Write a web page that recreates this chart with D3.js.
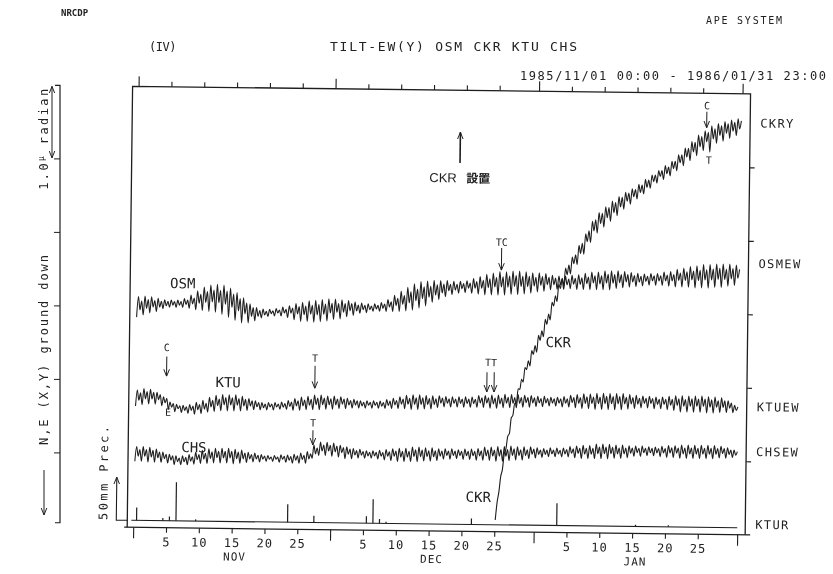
<!DOCTYPE html>
<html lang="ja">
<head>
<meta charset="utf-8">
<title>TILT-EW(Y) OSM CKR KTU CHS</title>
<script src="https://cdn.jsdelivr.net/npm/d3@7/dist/d3.min.js"></script>
<style>
  html, body { margin: 0; padding: 0; background: #fff; }
  svg { display: block; will-change: transform; }
  text { font-family: "DejaVu Sans Mono", monospace; fill: #222; }
</style>
</head>
<body>
<svg id="chart" width="833" height="574"></svg>
<script>
// ---- time axis: days from 1985/11/01 00:00 ----
const totalDays = 92;
const monthStarts = [0, 30, 61, 92];
const monthNames = ["NOV", "DEC", "JAN"];
const dayMarks = [5, 10, 15, 20, 25];
const levelTicks = [1, 2, 3, 4, 5];           // μrad

// ---- tilt traces (0.01 μrad), one tidal extreme every 6 h ----
const osmEW = [
286,314,296,308, 289,315,298,310, 292,314,300,309, 294,312,300,308, 298,310,302,308,
300,310,303,308, 300,310,303,308, 300,312,304,310, 299,317,305,313, 297,323,306,318,
296,328,307,322, 295,331,308,324, 294,332,307,324, 291,331,305,323, 287,327,301,319,
283,321,296,313, 280,314,292,307, 280,306,289,301, 283,301,289,297, 287,299,291,296,
289,299,293,297, 290,300,294,298, 290,302,294,299, 288,304,294,301, 285,307,293,303,
283,309,292,304, 283,311,293,305, 282,312,292,306, 283,313,293,307, 284,314,295,308,
286,314,296,308, 287,313,296,308, 290,312,298,308, 292,310,298,306, 295,309,300,306,
296,308,300,305, 298,308,301,306, 298,310,302,308, 298,314,304,311, 298,320,306,316,
298,326,308,320, 299,331,310,325, 300,336,313,329, 303,339,316,332, 306,340,318,333,
311,341,321,335, 315,341,324,336, 319,341,327,336, 322,340,328,336, 324,340,330,337,
325,341,331,338, 324,344,331,340, 323,347,331,342, 322,350,332,344, 322,352,333,346,
322,354,333,347, 322,354,333,348, 323,355,334,349, 323,355,334,348, 324,354,334,348,
325,353,335,347, 327,353,336,348, 328,352,337,347, 330,350,337,346, 331,349,337,345,
331,349,337,345, 332,350,338,346, 331,351,338,347, 331,353,339,348, 331,355,340,350,
331,355,339,350, 331,357,340,352, 331,357,340,352, 333,357,341,352, 334,356,342,352,
335,355,342,351, 336,354,342,350, 337,353,343,350, 338,354,344,351, 338,354,344,351,
338,356,344,352, 337,357,344,353, 336,360,345,355, 336,362,345,357, 336,364,346,358,
335,365,345,359, 335,367,346,360, 335,367,346,361, 336,368,347,362, 336,368,347,361,
338,368,348,362, 339,367,349,361
];
const ktuEW = [
165,187,173,183, 167,189,175,185, 168,188,175,184, 168,184,174,181, 166,178,170,176,
161,171,164,169, 158,168,162,166, 157,167,160,165, 156,168,160,166, 155,171,161,168,
156,174,162,170, 158,178,165,174, 159,181,167,176, 160,182,168,178, 160,182,168,178,
160,182,168,177, 160,180,167,176, 161,177,167,174, 162,174,166,172, 162,172,165,170,
162,172,166,170, 162,172,166,170, 163,173,166,171, 163,175,167,173, 162,178,168,175,
162,180,168,176, 163,181,169,177, 163,183,170,179, 163,183,170,179, 164,182,170,178,
164,182,170,178, 165,181,171,178, 165,179,170,176, 166,178,170,176, 166,176,169,174,
166,176,170,174, 166,176,170,174, 166,176,169,174, 166,178,170,176, 166,180,171,177,
166,182,172,179, 166,184,172,180, 165,185,172,181, 165,185,172,181, 166,184,172,180,
166,184,172,180, 168,184,174,181, 169,183,174,180, 169,183,174,180, 169,183,174,180,
169,183,174,180, 169,183,174,180, 169,185,175,182, 169,185,175,182, 168,186,174,182,
168,186,174,182, 169,187,175,183, 169,187,175,183, 169,187,175,183, 170,186,176,183,
170,186,176,183, 171,185,176,182, 171,185,176,182, 172,184,176,182, 172,184,176,182,
171,185,176,182, 171,187,177,184, 170,188,176,184, 169,189,176,185, 169,189,176,185,
168,190,176,185, 168,190,176,186, 168,190,176,186, 168,190,176,186, 168,190,176,185,
169,189,176,185, 170,188,176,184, 171,187,177,184, 171,187,177,184, 170,186,176,183,
170,186,176,183, 169,187,175,183, 168,188,175,184, 166,188,174,183, 166,188,174,184,
166,188,174,184, 166,188,174,184, 165,187,173,183, 165,187,173,182, 166,186,173,182,
166,182,172,179, 166,176,169,174
];
const chsEW = [
90,110,97,106, 90,110,97,106, 89,109,96,105, 89,107,95,103, 89,103,94,100,
88,100,92,98, 86,98,90,95, 86,98,90,96, 86,100,91,97, 87,103,93,100,
88,106,94,102, 88,108,95,104, 89,109,96,105, 89,109,96,105, 89,109,96,105,
88,108,95,104, 89,107,95,103, 90,104,95,101, 91,103,95,100, 91,101,95,99,
92,100,95,98, 92,100,95,98, 91,101,95,99, 91,101,94,99, 90,102,94,100,
90,104,95,101, 90,106,96,103, 97,115,103,111, 101,119,107,115, 101,119,107,115,
100,118,106,114, 99,115,105,112, 97,113,103,110, 97,111,102,108, 98,110,102,107,
98,108,101,106, 98,108,101,106, 97,109,101,106, 96,110,101,107, 95,111,101,108,
94,112,100,108, 94,112,100,108, 94,114,101,110, 94,114,101,110, 95,113,101,109,
95,113,101,109, 96,112,102,109, 98,112,103,109, 98,112,103,109, 99,111,103,109,
98,112,103,109, 98,112,103,109, 97,113,103,110, 97,115,103,111, 97,115,103,111,
96,116,103,112, 96,116,103,112, 97,117,104,113, 98,116,104,112, 98,116,104,112,
100,116,106,113, 101,115,106,112, 102,114,106,112, 103,115,107,112, 103,115,107,112,
103,115,107,113, 103,117,108,114, 102,118,108,115, 101,119,107,115, 101,119,107,115,
101,121,108,117, 101,121,108,117, 101,121,108,117, 102,120,108,116, 102,120,108,116,
103,119,109,116, 105,119,110,116, 105,119,110,116, 106,118,110,116, 106,118,110,116,
105,119,110,116, 104,120,110,117, 104,120,110,117, 103,121,109,117, 103,121,109,117,
103,121,109,117, 103,121,109,117, 103,121,109,117, 103,121,109,117, 104,120,110,117,
104,118,109,115, 105,115,108,113
];
// CKR starts recording on 1985/12/26 (day 55)
const ckrFirstDay = 55;
const ckrY = [
16,40,54,75, 85,106,113,130, 134,155,159,175, 175,195,194,208, 204,224,221,233,
226,247,242,254, 245,268,261,274, 266,290,283,297, 289,313,308,322, 314,338,332,346,
336,360,351,364, 352,375,366,378, 365,391,380,394, 379,407,396,411, 395,424,411,426,
408,436,421,435, 416,444,429,443, 424,452,436,450, 432,458,444,457, 441,464,452,463,
448,469,458,468, 455,475,464,474, 462,482,471,481, 470,488,479,488, 477,494,486,494,
482,501,490,499, 487,507,497,507, 494,516,505,516, 501,525,513,525, 508,534,520,533,
515,543,527,541, 522,549,534,547, 520,556,538,552, 532,559,543,556, 535,562,546,559,
539,564,549,561, 543,566,552,563
];

// ---- KTU daily precipitation (mm) ----
const rainDays = [0, 4, 5, 6, 9, 23, 27, 35, 36, 37, 38, 51, 64, 76, 81];
const rainMm   = [15, 3, 5, 45, 2, 21, 8, 8, 28, 5, 2, 7, 26, 2, 2];

// ================= drawing =================
const svg = d3.select("#chart");
const ink = "#1e1e1e";

const x = d3.scaleLinear().domain([0, totalDays]).range([136, 740]);
const y = d3.scaleLinear().domain([0, 6]).range([531, 90]);
const yRain = d3.scaleLinear().domain([0, 50]).range([524, 481]);
const frame = { left: 130, right: 748, top: y(6), bottom: y(0) };

const defs = svg.append("defs");
defs.append("marker")
  .attr("id", "head")
  .attr("viewBox", "0 0 10 10")
  .attr("refX", 10).attr("refY", 5)
  .attr("markerWidth", 7).attr("markerHeight", 7)
  .attr("markerUnits", "userSpaceOnUse")
  .attr("orient", "auto-start-reverse")
  .append("path")
  .attr("d", "M0,1 L10,5 L0,9")
  .attr("fill", "none").attr("stroke", ink).attr("stroke-width", 1.4);

// ---- header ----
svg.append("text").attr("x", 61).attr("y", 16).attr("font-size", 9).attr("font-weight", "bold").text("NRCDP");
svg.append("text").attr("x", 706).attr("y", 24).attr("font-size", 10).attr("textLength", 76).text("APE SYSTEM");
svg.append("text").attr("x", 149).attr("y", 51).attr("font-size", 12).attr("letter-spacing", -0.5).text("(IV)");
svg.append("text").attr("x", 330).attr("y", 51).attr("font-size", 13).attr("textLength", 247)
  .text("TILT-EW(Y) OSM CKR KTU CHS");
svg.append("text").attr("x", 520).attr("y", 80).attr("font-size", 12).attr("textLength", 306)
  .text("1985/11/01 00:00 - 1986/01/31 23:00");

// ---- left scale bar (1 μrad per division) ----
const yL = d3.scaleLinear().domain([0, 6]).range([526.4, 85.4]);
const scaleX = 60;
const left = svg.append("g").attr("stroke", ink).attr("fill", "none");
left.append("path")
  .attr("d", `M${scaleX - 5},${yL(6)} H${scaleX} V${yL(0.05)} H${scaleX - 5}`)
  .attr("stroke-width", 1.2);
left.selectAll("line.tick").data(levelTicks).join("line")
  .attr("x1", scaleX - 6).attr("x2", scaleX)
  .attr("y1", d => yL(d)).attr("y2", d => yL(d));
left.append("line")
  .attr("x1", 52).attr("x2", 52).attr("y1", yL(6) + 1).attr("y2", yL(5) - 1)
  .attr("marker-start", "url(#head)").attr("marker-end", "url(#head)");

// axis caption, read bottom-to-top
const axisTextX = 44;
const radian = svg.append("text")
  .attr("transform", `translate(${axisTextX + 4},${yL(6) + 1}) rotate(-90)`)
  .attr("text-anchor", "end").attr("font-size", 12).attr("letter-spacing", 2.4);
radian.append("tspan").text("1.0");
radian.append("tspan").attr("font-size", 8).attr("dy", -4).text("μ");
radian.append("tspan").attr("dy", 4).text(" radian");
svg.append("text")
  .attr("transform", `translate(${axisTextX + 4},350) rotate(-90)`)
  .attr("text-anchor", "middle").attr("font-size", 12).attr("textLength", 190)
  .text("N,E (X,Y) ground down");
left.append("line").attr("x1", axisTextX).attr("x2", axisTextX).attr("y1", 470).attr("y2", 515)
  .attr("marker-end", "url(#head)");

// ---- plot (drawn slightly rotated, as on the plotter sheet) ----
const plot = svg.append("g").attr("transform", "rotate(0.7 435 300)");

// frame
plot.append("path")
  .attr("d", `M${frame.left},${frame.bottom} V${frame.top} H${frame.right} V${frame.bottom}`)
  .attr("fill", "none").attr("stroke", ink).attr("stroke-width", 1.3);
plot.append("line")
  .attr("x1", frame.left - 3).attr("x2", frame.right + 5)
  .attr("y1", frame.bottom).attr("y2", frame.bottom)
  .attr("stroke", ink).attr("stroke-width", 1.3);

const monthOf = t => d3.max(monthStarts.filter(m => m <= t));
const minorTicks = monthStarts.slice(0, 3).flatMap(m => dayMarks.map(d => m + d));

function styleAxis(g) {
  g.select(".domain").remove();
  g.selectAll(".tick line").attr("stroke", ink).attr("stroke-width", 1.1);
  g.selectAll("text").attr("font-family", "DejaVu Sans Mono, monospace")
    .attr("font-size", 12).attr("letter-spacing", 1).attr("fill", "#222");
}

// bottom axis
plot.append("g").attr("transform", `translate(0,${frame.bottom})`)
  .call(d3.axisBottom(x).tickValues(minorTicks).tickSize(5).tickPadding(5)
    .tickFormat(t => t - monthOf(t)))
  .call(styleAxis);
plot.append("g").attr("transform", `translate(0,${frame.bottom})`)
  .call(d3.axisBottom(x).tickValues(monthStarts).tickSize(11).tickFormat(""))
  .call(styleAxis);
plot.append("g").selectAll("text").data(monthNames).join("text")
  .attr("x", (d, i) => x(monthStarts[i] + 15.5))
  .attr("y", frame.bottom + 32)
  .attr("text-anchor", "middle").attr("font-size", 11).attr("letter-spacing", 1)
  .text(d => d);

// top axis
plot.append("g").attr("transform", `translate(0,${frame.top})`)
  .call(d3.axisTop(x).tickValues(minorTicks).tickSize(5).tickFormat(""))
  .call(styleAxis);
plot.append("g").attr("transform", `translate(0,${frame.top})`)
  .call(d3.axisTop(x).tickValues(monthStarts).tickSize(10).tickFormat(""))
  .call(styleAxis);

// right axis
plot.append("g").attr("transform", `translate(${frame.right},0)`)
  .call(d3.axisRight(y).tickValues(levelTicks).tickSize(5).tickFormat(""))
  .call(styleAxis);

// tilt traces
const trace = d3.line().x(d => x(d.t)).y(d => y(d.v)).curve(d3.curveMonotoneX);
const toPoints = (vals, first) => vals.map((v, i) => ({ t: first + (i + 0.5) / 4, v: v / 100 }));
const series = [
  { name: "OSMEW", values: osmEW, first: 0 },
  { name: "KTUEW", values: ktuEW, first: 0 },
  { name: "CHSEW", values: chsEW, first: 0 },
  { name: "CKRY",  values: ckrY,  first: ckrFirstDay }
];
plot.append("g").selectAll("path").data(series).join("path")
  .attr("d", s => trace(toPoints(s.values, s.first)))
  .attr("fill", "none").attr("stroke", ink).attr("stroke-width", 1.1)
  .attr("stroke-linejoin", "round");

// precipitation
const rain = rainDays.map((d, i) => ({ t: d + 0.5, mm: rainMm[i] }));
plot.append("line")
  .attr("x1", x(0) - 2).attr("x2", x(totalDays))
  .attr("y1", yRain(0)).attr("y2", yRain(0))
  .attr("stroke", ink).attr("stroke-width", 1.1);
plot.append("g").selectAll("line").data(rain).join("line")
  .attr("x1", d => x(d.t)).attr("x2", d => x(d.t))
  .attr("y1", yRain(0)).attr("y2", d => yRain(d.mm))
  .attr("stroke", ink).attr("stroke-width", 1.2);

// 50 mm bracket
plot.append("path")
  .attr("d", `M${frame.left},${yRain(0)} H119 V${yRain(50)}`)
  .attr("fill", "none").attr("stroke", ink).attr("stroke-width", 1.1)
  .attr("marker-end", "url(#head)");
plot.append("text")
  .attr("transform", `translate(110,${yRain(0)}) rotate(-90)`)
  .attr("font-size", 12).attr("textLength", 94)
  .text("50mm Prec.");

// right-hand channel names
const channelLabels = [
  { text: "CKRY", level: 5.6 },
  { text: "OSMEW", level: 3.69 },
  { text: "KTUEW", level: 1.74 },
  { text: "CHSEW", level: 1.13 },
  { text: "KTUR", level: 0.14 }
];
plot.append("g").selectAll("text").data(channelLabels).join("text")
  .attr("x", frame.right + 10).attr("y", d => y(d.level))
  .attr("dy", "0.35em").attr("font-size", 12).attr("letter-spacing", 1.4)
  .text(d => d.text);

// station names on the traces
const stationLabels = [
  { text: "OSM", t: 7.1, level: 3.33 },
  { text: "KTU", t: 14.2, level: 1.99 },
  { text: "CHS", t: 9.1, level: 1.10 },
  { text: "CKR", t: 64.4, level: 2.59 },
  { text: "CKR", t: 52.5, level: 0.47 }
];
plot.append("g").selectAll("text").data(stationLabels).join("text")
  .attr("x", d => x(d.t)).attr("y", d => y(d.level))
  .attr("dy", "0.36em").attr("text-anchor", "middle")
  .attr("font-family", "Liberation Sans, Arial, sans-serif").attr("font-size", 14)
  .text(d => d.text);

// event marks: letter above an arrow pointing at the trace
const marks = [
  { text: "C",  t: 4.8,  textLevel: 2.45, arrows: [{ t: 4.8, from: 2.33, to: 2.06 }] },
  { text: "E",  t: 5.1,  textLevel: 1.57, arrows: [] },
  { text: "T",  t: 27.4, textLevel: 2.33, arrows: [{ t: 27.4, from: 2.23, to: 1.92 }] },
  { text: "T",  t: 27.2, textLevel: 1.45, arrows: [{ t: 27.2, from: 1.35, to: 1.15 }] },
  { text: "TT", t: 54.2, textLevel: 2.30, arrows: [{ t: 53.6, from: 2.17, to: 1.90 }, { t: 54.7, from: 2.17, to: 1.90 }] },
  { text: "TC", t: 55.6, textLevel: 3.94, arrows: [{ t: 55.6, from: 3.86, to: 3.56 }] },
  { text: "C",  t: 86.6, textLevel: 5.83, arrows: [{ t: 86.6, from: 5.75, to: 5.53 }] },
  { text: "T",  t: 87.0, textLevel: 5.09, arrows: [] }
];
const markG = plot.append("g");
markG.selectAll("text").data(marks).join("text")
  .attr("x", d => x(d.t)).attr("y", d => y(d.textLevel))
  .attr("dy", "0.35em").attr("text-anchor", "middle").attr("font-size", 10)
  .text(d => d.text);
markG.selectAll("line").data(marks.flatMap(d => d.arrows)).join("line")
  .attr("x1", d => x(d.t)).attr("x2", d => x(d.t))
  .attr("y1", d => y(d.from)).attr("y2", d => y(d.to))
  .attr("stroke", ink).attr("stroke-width", 1)
  .attr("marker-end", "url(#head)");

// CKR installation note
const install = { t: 49.1, from: 5.01, to: 5.43, textLevel: 4.81 };
plot.append("line")
  .attr("x1", x(install.t)).attr("x2", x(install.t))
  .attr("y1", y(install.from)).attr("y2", y(install.to))
  .attr("stroke", ink).attr("stroke-width", 1.6)
  .attr("marker-end", "url(#head)");
const note = plot.append("text")
  .attr("x", x(install.t)).attr("y", y(install.textLevel)).attr("dy", "0.36em")
  .attr("text-anchor", "middle").attr("font-size", 13);
note.append("tspan").attr("font-family", "Liberation Sans, Arial, sans-serif").text("CKR ");
note.append("tspan").attr("font-family", "Noto Sans CJK JP").attr("font-weight", "bold")
  .attr("font-size", 12).attr("dx", 6).text("設置");
</script>
</body>
</html>
